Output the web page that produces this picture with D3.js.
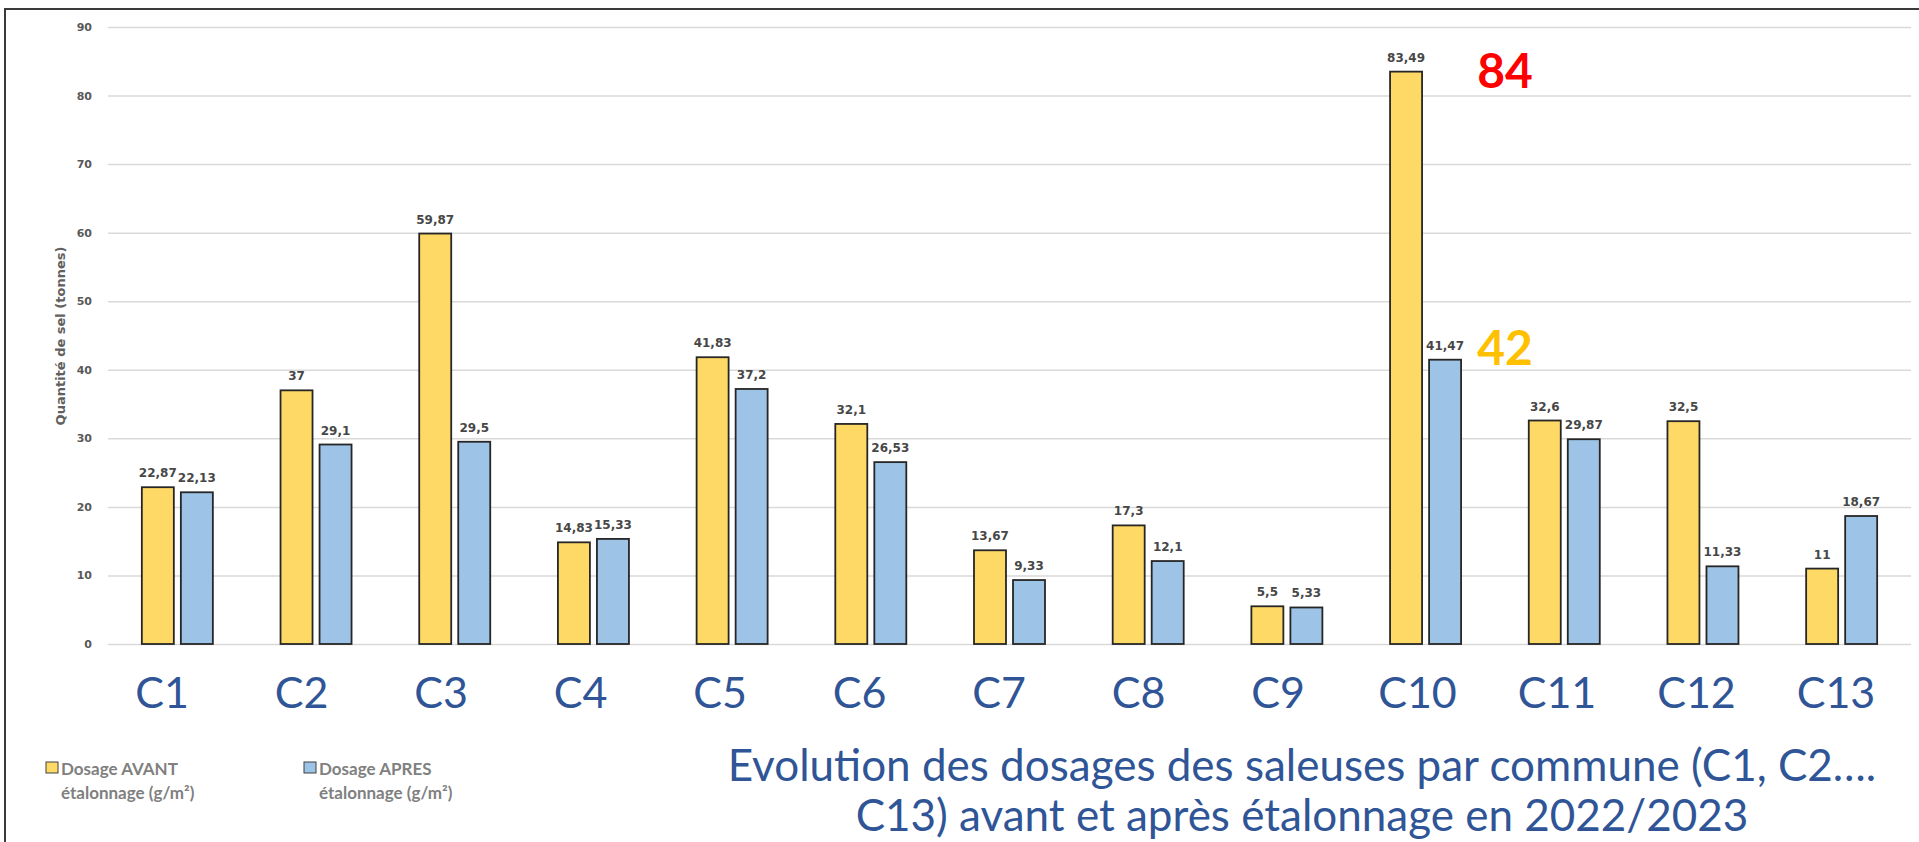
<!DOCTYPE html>
<html lang="fr">
<head>
<meta charset="utf-8">
<title>Evolution des dosages des saleuses</title>
<script src="https://cdn.jsdelivr.net/npm/d3@7"></script>
<style>
    html, body { margin: 0; padding: 0; background: #fff; }
    svg { display: block; }
    .tick line { stroke: #d9d9d9; stroke-width: 1.5; }
    .tick text { font-family: "DejaVu Sans", sans-serif; font-weight: bold; font-size: 11px; fill: #595959; }
</style>
</head>
<body>
<svg id="chart" width="1919" height="842"></svg>
<script>
// Communes and the two dosage series (tonnes)
const communes = ['C1','C2','C3','C4','C5','C6','C7','C8','C9','C10','C11','C12','C13'];
const avant = [22.87, 37, 59.87, 14.83, 41.83, 32.1, 13.67, 17.3, 5.5, 83.49, 32.6, 32.5, 11];
const apres = [22.13, 29.1, 29.5, 15.33, 37.2, 26.53, 9.33, 12.1, 5.33, 41.47, 29.87, 11.33, 18.67];
const yTicks = [0, 10, 20, 30, 40, 50, 60, 70, 80, 90];
const seriesKeys = ['avant', 'apres'];
const seriesNames = [['Dosage AVANT', 'étalonnage (g/m²)'], ['Dosage APRES', 'étalonnage (g/m²)']];
// the two big annotations next to C10
const callouts = [{text: '84', value: 84, colour: '#ff0000'}, {text: '42', value: 42, colour: '#ffc000'}];
const titleLines = ['Evolution des dosages des saleuses par commune (C1, C2….', 'C13) avant et après étalonnage en 2022/2023'];

const svg = d3.select('#chart');
const W = 1919;

// frame round the whole thing (open on the right/bottom, like the screenshot)
svg.append('path')
    .attr('d', `M5,${842} L5,9 L${W},9`)
    .attr('fill', 'none')
    .attr('stroke', '#3a3a3a')
    .attr('stroke-width', 2);

const plot = {left: 108, right: 1911, top: 27, bottom: 644};

const x0 = d3.scaleBand().domain(communes)
    .range([plot.left, plot.right])
    .paddingInner(0.488).paddingOuter(0.244);
const x1 = d3.scaleBand().domain(seriesKeys)
    .range([0, x0.bandwidth()])
    .paddingInner(0.18);
const y = d3.scaleLinear().domain([0, 90]).range([plot.bottom, plot.top]);
const colour = d3.scaleOrdinal().domain(seriesKeys).range(['#ffd966', '#9dc3e6']);

// the big C1..C13 labels were pasted over the chart, a bit off the groups
const xLabel = d3.scalePoint().domain(communes).range([162, 1836]);

// gridlines + tick labels
svg.append('g')
    .attr('transform', `translate(${plot.left},0)`)
    .call(d3.axisLeft(y).tickValues(yTicks).tickSize(-(plot.right - plot.left)).tickPadding(16))
    .call(g => g.select('.domain').remove());

// y title
svg.append('text')
    .attr('transform', `translate(65,336) rotate(-90)`)
    .attr('text-anchor', 'middle')
    .style('font-family', '"DejaVu Sans", sans-serif')
    .style('font-weight', 'bold')
    .style('font-size', '13px')
    .style('fill', '#606060')
    .text('Quantité de sel (tonnes)');

const rows = communes.map((c, i) => ({commune: c, avant: avant[i], apres: apres[i]}));

const groups = svg.append('g').selectAll('g').data(rows).join('g')
    .attr('transform', d => `translate(${x0(d.commune)},0)`);

const cells = groups.selectAll('g').data(d => seriesKeys.map(k => ({key: k, value: d[k]}))).join('g');

cells.append('rect')
    .attr('x', d => x1(d.key))
    .attr('y', d => y(d.value))
    .attr('width', x1.bandwidth())
    .attr('height', d => y(0) - y(d.value))
    .attr('fill', d => colour(d.key))
    .attr('stroke', '#262626')
    .attr('stroke-width', 1.8);

cells.append('text')
    .attr('x', d => x1(d.key) + x1.bandwidth() / 2)
    .attr('y', d => y(d.value) - 10)
    .attr('text-anchor', 'middle')
    .style('font-family', '"DejaVu Sans", sans-serif')
    .style('font-weight', 'bold')
    .style('font-size', '12px')
    .style('fill', '#474747')
    .text(d => String(d.value).replace('.', ','));

// big category labels under the groups
svg.append('g').selectAll('text').data(communes).join('text')
    .attr('x', d => xLabel(d))
    .attr('y', 708)
    .attr('text-anchor', 'middle')
    .style('font-family', 'Lato, sans-serif')
    .style('font-size', '43px')
    .style('fill', '#2f5597')
    .text(d => d);

// callouts right of C10 (hand placed in the original)
const calloutBaseline = [88, 365];
svg.append('g').selectAll('text').data(callouts).join('text')
    .attr('x', x0('C10') + x0.bandwidth() + 44)
    .attr('y', (d, i) => calloutBaseline[i])
    .attr('text-anchor', 'middle')
    .style('font-family', 'Lato, sans-serif')
    .style('font-weight', 'bold')
    .style('font-size', '48px')
    .style('fill', d => d.colour)
    .text(d => d.text);

// legend, bottom left
const legend = svg.append('g').selectAll('g').data(seriesKeys).join('g')
    .attr('transform', (d, i) => `translate(${46 + i * 258},762)`);
legend.append('rect')
    .attr('width', 12).attr('height', 11)
    .attr('fill', d => colour(d))
    .attr('stroke', '#404040').attr('stroke-width', 1);
legend.append('text')
    .attr('y', 13)
    .style('font-family', 'Lato, sans-serif')
    .style('font-weight', 'bold')
    .style('font-size', '17px')
    .style('fill', '#808080')
    .selectAll('tspan').data((d, i) => seriesNames[i]).join('tspan')
    .attr('x', 15)
    .attr('dy', (d, i) => i ? 24 : 0)
    .text(d => d);

// title, two centred lines
svg.append('g').selectAll('text').data(titleLines).join('text')
    .attr('x', 1302)
    .attr('y', (d, i) => 781 + i * 50)
    .attr('text-anchor', 'middle')
    .style('font-family', 'Lato, sans-serif')
    .style('font-size', '44px')
    .style('fill', '#2f5597')
    .text(d => d);
</script>
</body>
</html>
